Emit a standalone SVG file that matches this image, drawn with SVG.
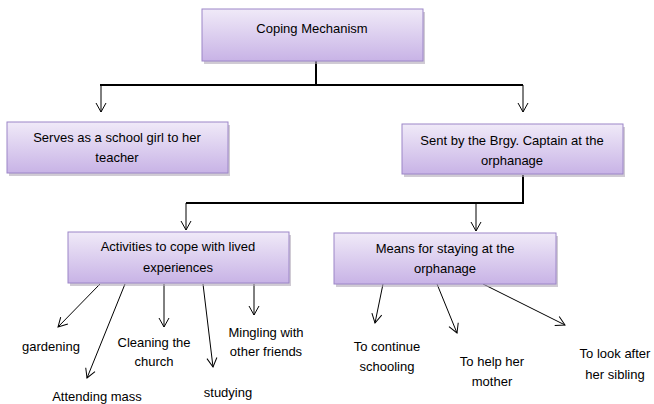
<svg xmlns="http://www.w3.org/2000/svg" width="654" height="404" viewBox="0 0 654 404">
<defs>
<linearGradient id="g" x1="0" y1="0" x2="0" y2="1">
<stop offset="0" stop-color="#f0eaf8"/>
<stop offset="1" stop-color="#c8b3e6"/>
</linearGradient>
<marker id="a" markerWidth="12" markerHeight="12" refX="10" refY="6" orient="auto" markerUnits="userSpaceOnUse">
<path d="M1,1 L10,6 L1,11" fill="none" stroke="#000" stroke-width="1"/>
</marker>
</defs>
<style>
.box{fill:url(#g);stroke:#9c86c8;stroke-width:1}
.sh{fill:#b0a8b8;opacity:0.6}
text{font-family:"Liberation Sans",Arial,sans-serif;font-size:13px;fill:#000;text-anchor:middle}
.thick{stroke:#000;stroke-width:2;fill:none}
.arr{stroke:#000;stroke-width:1;fill:none;marker-end:url(#a)}
</style>
<g id="connectors">
<polyline class="thick" points="316,61 316,85"/>
<polyline class="thick" points="100,85 523,85"/>
<line class="arr" x1="101" y1="85" x2="101" y2="112"/>
<line class="arr" x1="523" y1="85" x2="523" y2="112"/>
<polyline class="thick" points="523,175 523,203 186,203"/>
<line class="arr" x1="186" y1="203" x2="186" y2="230"/>
<line class="arr" x1="476" y1="203" x2="476" y2="231"/>
<line class="arr" x1="100" y1="284" x2="58" y2="327"/>
<line class="arr" x1="125" y1="284" x2="87" y2="378"/>
<line class="arr" x1="164" y1="284" x2="164" y2="327"/>
<line class="arr" x1="203" y1="284" x2="213" y2="367"/>
<line class="arr" x1="254" y1="284" x2="254" y2="315"/>
<line class="arr" x1="383" y1="284" x2="375" y2="323"/>
<line class="arr" x1="437" y1="284" x2="457" y2="333"/>
<line class="arr" x1="483" y1="284" x2="565" y2="325"/>
</g>
<g id="n-coping">
<rect class="sh" x="204" y="12" width="221" height="52"/>
<rect class="box" x="202" y="9" width="221" height="52"/>
<text x="312" y="33">Coping Mechanism</text>
</g>
<g id="n-serves">
<rect class="sh" x="9" y="125" width="221" height="51"/>
<rect class="box" x="7" y="122" width="221" height="51"/>
<text x="117" y="142">Serves as a school girl to her</text>
<text x="117" y="162">teacher</text>
</g>
<g id="n-sent">
<rect class="sh" x="404" y="127" width="221" height="50"/>
<rect class="box" x="402" y="124" width="221" height="50"/>
<text x="512" y="145">Sent by the Brgy. Captain at the</text>
<text x="512" y="165">orphanage</text>
</g>
<g id="n-activities">
<rect class="sh" x="70" y="235" width="221" height="51"/>
<rect class="box" x="68" y="232" width="221" height="51"/>
<text x="178" y="251">Activities to cope with lived</text>
<text x="178" y="272">experiences</text>
</g>
<g id="n-means">
<rect class="sh" x="336" y="236" width="222" height="51"/>
<rect class="box" x="334" y="233" width="222" height="51"/>
<text x="445" y="253">Means for staying at the</text>
<text x="445" y="273">orphanage</text>
</g>
<g id="n-gardening"><text x="51" y="351">gardening</text></g>
<g id="n-attending"><text x="97" y="401">Attending mass</text></g>
<g id="n-cleaning"><text x="154" y="347">Cleaning the</text><text x="154" y="366">church</text></g>
<g id="n-studying"><text x="228" y="397">studying</text></g>
<g id="n-mingling"><text x="266" y="337">Mingling with</text><text x="266" y="356">other friends</text></g>
<g id="n-continue"><text x="387" y="351">To continue</text><text x="387" y="371">schooling</text></g>
<g id="n-help"><text x="492" y="366">To help her</text><text x="492" y="386">mother</text></g>
<g id="n-look"><text x="615" y="358">To look after</text><text x="615" y="379">her sibling</text></g>
</svg>
